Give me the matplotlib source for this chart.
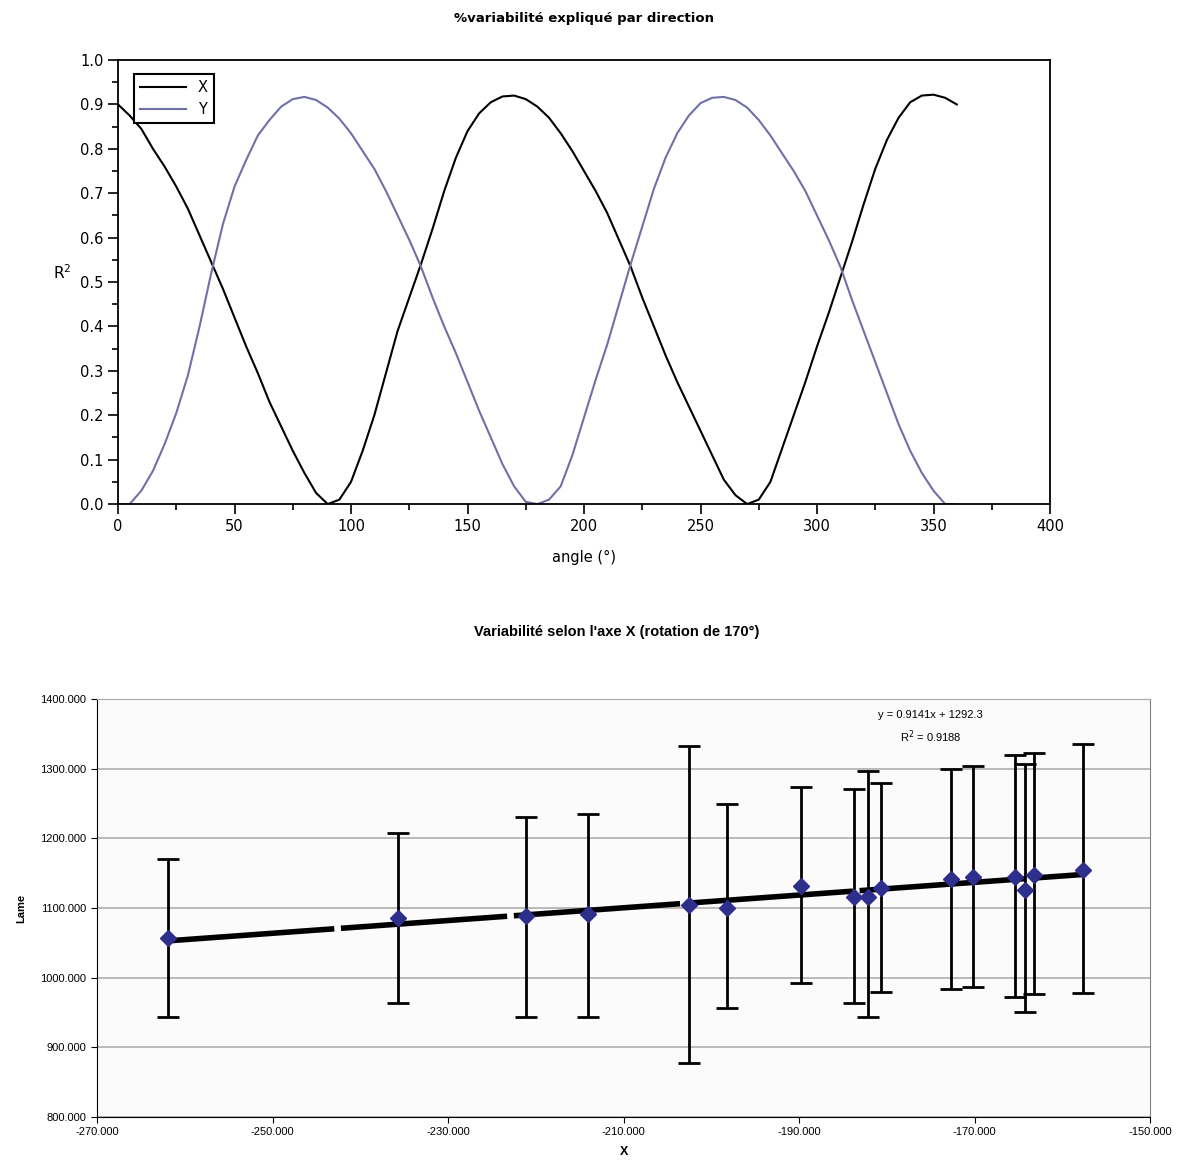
import matplotlib
matplotlib.use("Agg")
import matplotlib.pyplot as plt
from matplotlib.ticker import MultipleLocator, FixedLocator, FormatStrFormatter
import numpy as np

# --- top chart: R2 per direction, every 5 degrees
angle = list(range(0, 361, 5))
r2_x = [0.90, 0.875, 0.845, 0.80, 0.76, 0.715, 0.665, 0.605, 0.545, 0.485,
        0.42, 0.355, 0.295, 0.23, 0.175, 0.12, 0.07, 0.025, 0.0, 0.01,
        0.05, 0.12, 0.20, 0.295, 0.39, 0.465, 0.54, 0.62, 0.705, 0.78,
        0.84, 0.88, 0.905, 0.918, 0.92, 0.912, 0.895, 0.87, 0.835, 0.795,
        0.75, 0.705, 0.655, 0.595, 0.535, 0.465, 0.40, 0.335, 0.275, 0.22,
        0.165, 0.11, 0.055, 0.02, 0.0, 0.01, 0.05, 0.125, 0.20, 0.275,
        0.355, 0.43, 0.51, 0.59, 0.675, 0.755, 0.82, 0.87, 0.905, 0.92,
        0.922, 0.915, 0.90]
r2_y = [0.0, 0.0, 0.03, 0.075, 0.135, 0.205, 0.29, 0.40, 0.52, 0.63,
        0.715, 0.775, 0.83, 0.865, 0.895, 0.912, 0.917, 0.91, 0.893, 0.868,
        0.835, 0.795, 0.755, 0.705, 0.65, 0.595, 0.535, 0.465, 0.40, 0.34,
        0.275, 0.21, 0.15, 0.09, 0.04, 0.005, 0.0, 0.01, 0.04, 0.11,
        0.195, 0.28, 0.36, 0.45, 0.54, 0.625, 0.71, 0.78, 0.835, 0.875,
        0.903, 0.915, 0.917, 0.91, 0.893, 0.865, 0.83, 0.79, 0.75, 0.705,
        0.65, 0.595, 0.535, 0.46, 0.39, 0.32, 0.25, 0.18, 0.12, 0.07,
        0.03, 0.0, 0.0]

# --- bottom chart: Lame vs X with error bars
x_pts = [-261.9, -235.7, -221.1, -214.1, -202.5, -198.2, -189.8, -183.7,
         -182.2, -180.7, -172.7, -170.2, -165.4, -164.3, -163.2, -157.7]
lame = [1057, 1086, 1088, 1092, 1105, 1100, 1131, 1116,
        1116, 1129, 1141, 1144, 1145, 1126, 1148, 1155]
err_top = [1171, 1207, 1230, 1235, 1333, 1250, 1273, 1271,
           1296, 1280, 1299, 1304, 1320, 1307, 1323, 1336]
err_bot = [943, 964, 944, 944, 878, 957, 993, 964,
           943, 980, 984, 986, 973, 951, 976, 978]
x_ticks = [-270, -250, -230, -210, -190, -170, -150]
slope = 0.9141
intercept = 1292.3
r2 = 0.9188

fig = plt.figure(figsize=(11.97, 11.66), dpi=100)

# ---------- top chart
ax1 = fig.add_axes([0.0986, 0.5677, 0.7786, 0.3808])
ax1.plot(angle, r2_x, color='black', lw=1.5, label='X')
ax1.plot(angle, r2_y, color='#7070a8', lw=1.5, label='Y')
ax1.set_xlim(0, 400)
ax1.set_ylim(0, 1)
ax1.xaxis.set_major_locator(MultipleLocator(50))
ax1.xaxis.set_minor_locator(MultipleLocator(25))
ax1.yaxis.set_major_locator(MultipleLocator(0.1))
ax1.yaxis.set_minor_locator(MultipleLocator(0.05))
ax1.yaxis.set_major_formatter(FormatStrFormatter('%.1f'))
ax1.tick_params(which='major', direction='out', length=7, width=1.2, labelsize=10.5)
ax1.tick_params(which='minor', direction='out', length=4, width=1.2)
for s in ax1.spines.values():
    s.set_linewidth(1.3)
ax1.set_xlabel('angle (°)', fontsize=10.5, labelpad=12)
ax1.set_ylabel('R$^2$', fontsize=11, rotation=0, labelpad=6)
ax1.yaxis.set_label_coords(-0.06, 0.5)
leg = ax1.legend(loc='upper left', bbox_to_anchor=(0.009, 0.985), fontsize=10.5,
                 fancybox=False, edgecolor='black', framealpha=1,
                 handlelength=3.2, borderpad=0.4, labelspacing=0.5)
leg.get_frame().set_linewidth(1.5)
fig.text(0.488, 0.984, '%variabilité expliqué par direction', ha='center',
         va='center', fontsize=9.5, fontweight='bold')

# ---------- bottom chart
ax2 = fig.add_axes([0.081, 0.042, 0.880, 0.3585])
ax2.set_facecolor('#fbfbfb')
ax2.set_xlim(-270, -150)
ax2.set_ylim(800, 1400)
ax2.yaxis.set_major_locator(MultipleLocator(100))
ax2.xaxis.set_major_locator(FixedLocator(x_ticks))
ax2.xaxis.set_major_formatter(FormatStrFormatter('%.3f'))
ax2.yaxis.set_major_formatter(FormatStrFormatter('%.3f'))
ax2.grid(axis='y', color='#a8a8a8', lw=1.1)
ax2.set_axisbelow(True)

lo = np.array(lame) - np.array(err_bot)
hi = np.array(err_top) - np.array(lame)
ax2.errorbar(x_pts, lame, yerr=[lo, hi], fmt='none', ecolor='black',
             elinewidth=2, capsize=8, capthick=2, zorder=3)
xs = np.array([min(x_pts), max(x_pts)])
ax2.plot(xs, slope * xs + intercept, color='black', lw=4,
         dashes=(30, 1.2), zorder=4)
ax2.plot(x_pts, lame, 'D', color='#2e2e8c', ms=8, zorder=5)

ax2.text(-175.0, 1377, 'y = %.4fx + %.1f' % (slope, intercept), ha='center',
         va='center', fontsize=8, family='Liberation Sans')
ax2.text(-175.0, 1346, 'R$^2$ = %.4f' % r2, ha='center', va='center',
         fontsize=8, family='Liberation Sans')

ax2.tick_params(direction='out', length=4, labelsize=8)
for lab in ax2.get_xticklabels() + ax2.get_yticklabels():
    lab.set_family('Liberation Sans')
ax2.spines['left'].set_color('black')
ax2.spines['bottom'].set_color('black')
ax2.spines['top'].set_color('#a8a8a8')
ax2.spines['right'].set_color('#808080')
ax2.set_xlabel('X', fontsize=9, fontweight='bold', family='Liberation Sans', labelpad=6)
ax2.set_ylabel('Lame', fontsize=8, fontweight='bold', family='Liberation Sans', labelpad=10)
fig.text(0.515, 0.458, "Variabilité selon l'axe X (rotation de 170°)", ha='center',
         va='center', fontsize=10.5, fontweight='bold', family='Liberation Sans')

fig.savefig('out.png', dpi=100)
